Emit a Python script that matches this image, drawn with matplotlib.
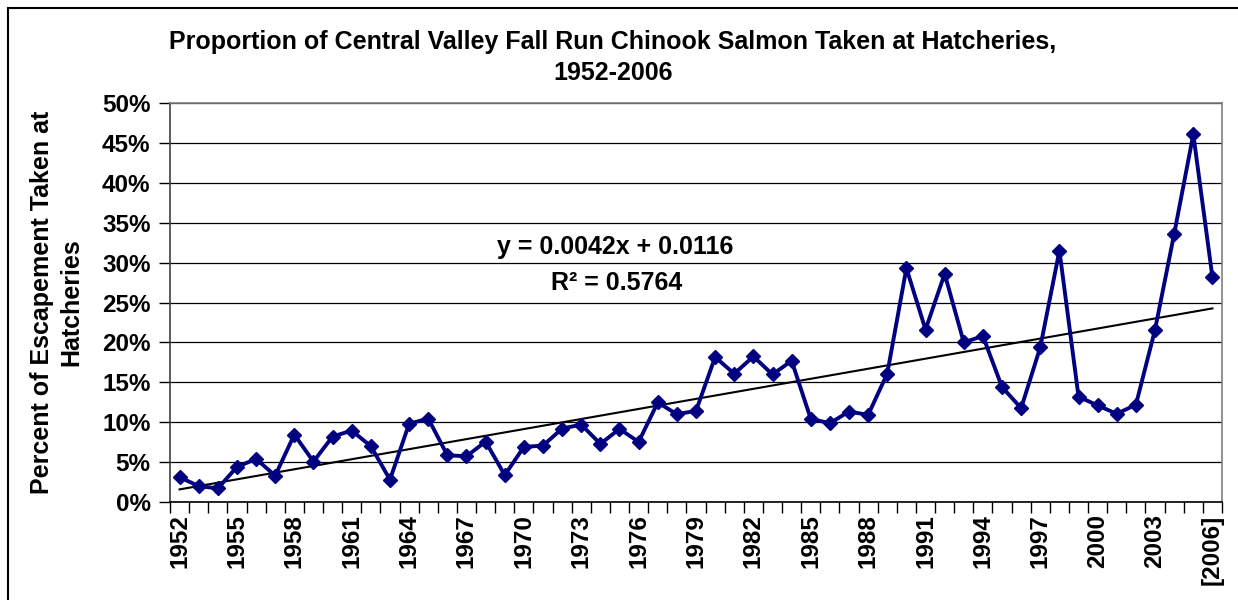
import matplotlib
matplotlib.use('Agg')
import matplotlib.pyplot as plt
from matplotlib.patches import Rectangle
from matplotlib.ticker import FixedLocator, PercentFormatter

plt.rcParams['font.family'] = ['Liberation Sans', 'DejaVu Sans']
plt.rcParams['font.weight'] = 'bold'

years = list(range(1952, 2007))
share = [0.031, 0.020, 0.017, 0.044, 0.054, 0.033, 0.0845, 0.0506, 0.082, 0.0895,
         0.070, 0.028, 0.098, 0.1046, 0.0586, 0.0573, 0.0757, 0.0337,
         0.069, 0.0707, 0.092, 0.097, 0.0728, 0.0916, 0.0753, 0.1247, 0.110, 0.1142,
         0.1816, 0.1607, 0.1824, 0.1598, 0.177, 0.1042, 0.0987,
         0.1134, 0.1092, 0.161, 0.293, 0.216, 0.286, 0.200, 0.208, 0.144, 0.1176,
         0.194, 0.315, 0.132, 0.121, 0.1105, 0.122, 0.216, 0.336, 0.4607, 0.2816]
tick_labels = [str(y) for y in years[:-1:3]] + ['[2006]']

# linear trend as reported on the chart
slope, intercept, r2 = 0.0042, 0.0116, 0.5764

fig = plt.figure(figsize=(12.38, 6.0), dpi=100)
ax = fig.add_axes([170 / 1238, 1 - 502 / 600, 1052 / 1238, 399 / 600])

idx = list(range(len(years)))
ax.plot(idx, share, color='#000080', lw=2.8, marker='D', ms=7, zorder=3)

n = len(years)
trend = [slope * (i + 1) + intercept for i in (0, n - 1)]
ax.plot([0, n - 1], trend, color='black', lw=1.5, zorder=2)

ax.set_xlim(-0.5, n - 0.5)
ax.set_ylim(0, 0.5)
ax.set_yticks([i * 0.05 for i in range(11)])
ax.yaxis.set_major_formatter(PercentFormatter(1.0, decimals=0))
ax.grid(axis='y', color='black', lw=0.9)
ax.set_axisbelow(True)

ax.set_xticks(idx[::3])
ax.set_xticklabels(tick_labels, rotation=90, fontsize=17.5, fontweight='bold')
ax.xaxis.set_minor_locator(FixedLocator([i - 0.5 for i in range(n + 1)]))
ax.tick_params(axis='x', which='major', length=0, pad=9)
ax.tick_params(axis='x', which='minor', length=8, width=1, color='black')
ax.tick_params(axis='y', length=8, width=1, color='black', labelsize=17.5, pad=6)
for lab in ax.get_yticklabels():
    lab.set_fontweight('bold')

ax.spines['top'].set_color('#808080')
ax.spines['right'].set_color('#808080')
ax.spines['left'].set_color('#404040')
ax.spines['bottom'].set_color('black')
for s in ax.spines.values():
    s.set_linewidth(1.2)

fig.text(615 / 1238, 1 - 247 / 600, 'y = 0.0042x + 0.0116',
         ha='center', va='center', fontsize=18, fontweight='bold')
fig.text(617 / 1238, 1 - 283 / 600, f'R\u00b2 = {r2}',
         ha='center', va='center', fontsize=18, fontweight='bold')

fig.text(613 / 1238, 1 - 42 / 600,
         'Proportion of Central Valley Fall Run Chinook Salmon Taken at Hatcheries,',
         ha='center', va='center', fontsize=18, fontweight='bold')
fig.text(613 / 1238, 1 - 73 / 600, '1952-2006',
         ha='center', va='center', fontsize=18, fontweight='bold')
fig.text(57 / 1238, 1 - 302 / 600, 'Percent of Escapement Taken at\nHatcheries',
         rotation=90, ha='center', va='center', fontsize=18, fontweight='bold',
         linespacing=1.3)

# outer chart frame
fig.patches.append(Rectangle((8 / 1238, -0.1), 1.2, 1 - 8 / 600 + 0.1,
                             transform=fig.transFigure, fill=False,
                             edgecolor='black', lw=1.5))

fig.savefig('out.png', dpi=100)
